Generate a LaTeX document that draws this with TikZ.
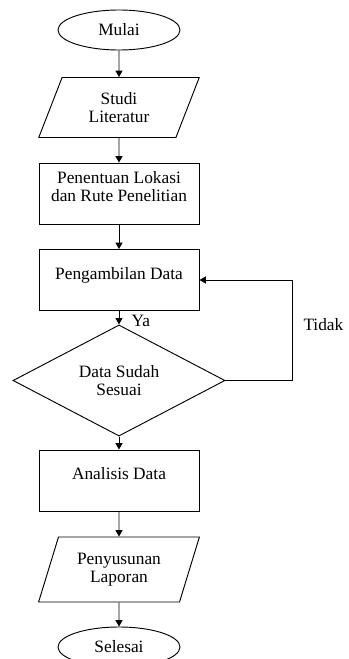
\documentclass[tikz,border=0pt]{standalone}
\usepackage{fontspec}
\setmainfont{Liberation Serif}
\usetikzlibrary{shapes.geometric,arrows.meta}

\begin{document}
\begin{tikzpicture}[
    font=\fontsize{14.8}{15.8}\selectfont,
    line width=0.8pt,
    >={Triangle[length=5.5pt,width=6pt]},
    terminal/.style={draw, ellipse, align=center, minimum width=3.66cm, minimum height=1.2cm, inner sep=0pt},
    io/.style={draw, trapezium, align=center, trapezium left angle=70, trapezium right angle=110,
        trapezium stretches=true, minimum width=4.83cm, minimum height=1.8cm},
    process/.style={draw, rectangle, align=center, minimum width=4.8cm, minimum height=1.83cm, text depth=0.42cm},
    decision/.style={draw, diamond, align=center, minimum width=6.36cm, minimum height=2.61cm, inner sep=0pt}]
    \useasboundingbox (0,0) rectangle (10.44,-19.77);
    \node[terminal] (A) at (3.57,-0.9) {Mulai};
    \node[io] (B) at (3.57,-3.225) {Studi\\Literatur};
    \node[process] (C) at (3.57,-5.805) {Penentuan Lokasi\\dan Rute Penelitian};
    \node[process] (D) at (3.57,-8.4) {Pengambilan Data};
    \node[decision] (E) at (3.57,-11.415) {Data Sudah\\Sesuai};
    \node[process] (F) at (3.57,-14.415) {Analisis Data};
    \node[io, minimum height=1.95cm] (G) at (3.57,-17.085) {Penyusunan\\Laporan};
    \node[terminal] (H) at (3.57,-19.41) {Selesai};
    \draw[->] (A) -- (B);
    \draw[->] (B) -- (C);
    \draw[->] (C) -- (D);
    \draw[->] (D) -- node[right, xshift=0.25cm, yshift=-0.1cm] {Ya} (E);
    \draw[->] (E.east) -- ++(2.01,0) |- node[pos=0.28, right, xshift=0.2cm] {Tidak} (D.east);
    \draw[->] (E) -- (F);
    \draw[->] (F) -- (G);
    \draw[->] (G) -- (H);
\end{tikzpicture}
\end{document}
